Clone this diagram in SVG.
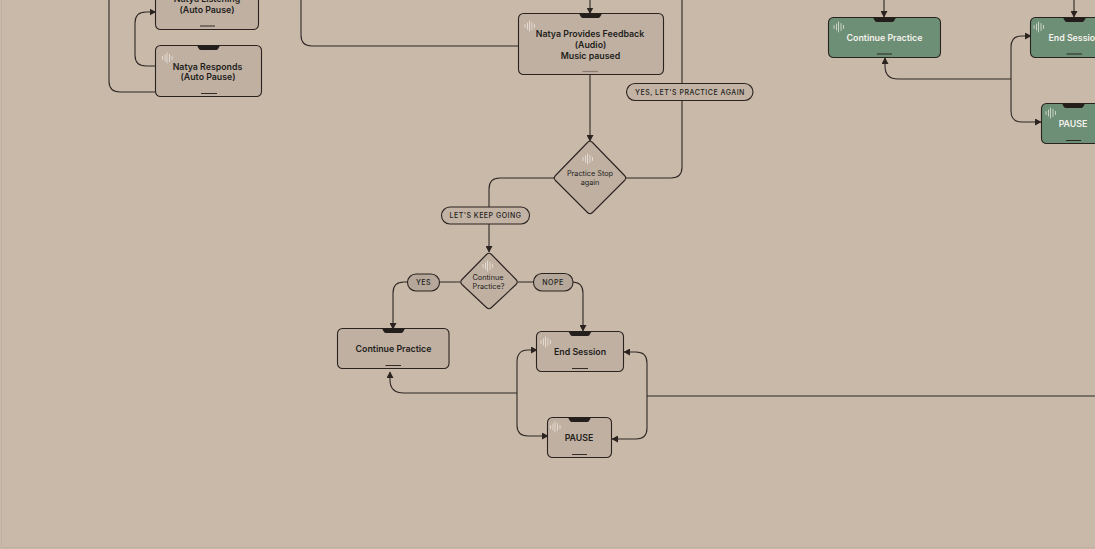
<svg xmlns="http://www.w3.org/2000/svg" width="1095" height="549" viewBox="0 0 1095 549">
<style>
.n{fill:#bfb0a2;stroke:#2a2320;stroke-width:1.1}
.g{fill:#6c8f76;stroke:#2a2320;stroke-width:1.1}
.c{fill:none;stroke:#2f2825;stroke-width:1.1}
.t{font-family:Inter,"Liberation Sans",sans-serif;font-size:8.8px;font-weight:600;fill:#231e1b;text-anchor:middle}
.d{font-family:Inter,"Liberation Sans",sans-serif;font-size:7.3px;fill:#231e1b;text-anchor:middle}
.l{font-family:Inter,"Liberation Sans",sans-serif;font-size:7px;font-weight:500;letter-spacing:.5px;fill:#231e1b;text-anchor:middle}
.p{fill:#c2b3a5;stroke:#2a2320;stroke-width:1.1}
.y{fill:#b5a799;stroke:#2a2320;stroke-width:1.1}
.notch{fill:#231e1b}
.bar{stroke:#231e1b;stroke-width:.9;fill:none}
.ic{stroke:#f3eee8;stroke-width:.7;fill:none;stroke-linecap:round}
</style>
<defs>
<marker id="a" markerWidth="7" markerHeight="7" refX="6" refY="3.500" orient="auto" markerUnits="userSpaceOnUse"><path d="M0 0L6.500 3.500L0 7z" fill="#2a2320"/></marker>
<g id="wave"><path class="ic" d="M0 -1.500V1.500M2.500 -3V3M4.500 -5V5M7 -3.500V3.500M9.500 -1.500V1.500"/></g>
<path id="nt" class="notch" d="M-11.500 0H11.500L9.500 3.500Q9 4.500 7.500 4.500H-7.500Q-9 4.500 -9.500 3.500Z"/>
</defs>
<rect width="1095" height="549" fill="#c9b9a9"/>
<path d="M1.500 0V547.500H1095" fill="none" stroke="#bdb0a1" stroke-width="1"/>
<g id="connectors">
<path class="c" d="M155.500 66H146Q135 66 135 55V23Q135 12 146 12H155.500" marker-end="url(#a)"/>
<path class="c" d="M155.500 92H120Q109 92 109 81V0"/>
<path class="c" d="M301 0V35Q301 46 312 46H518.500"/>
<path class="c" d="M590 0V13.500" marker-end="url(#a)"/>
<path class="c" d="M590 75V141" marker-end="url(#a)"/>
<path class="c" d="M626 178H671Q682 178 682 167V0"/>
<path class="c" d="M554 178H500Q489 178 489 189V252" marker-end="url(#a)"/>
<path class="c" d="M460 282H404Q393 282 393 293V329" marker-end="url(#a)"/>
<path class="c" d="M518 282H572Q583 282 583 293V331" marker-end="url(#a)"/>
<path class="c" d="M1095 396H647"/>
<path class="c" d="M647 396V363Q647 352 636 352H624" marker-end="url(#a)"/>
<path class="c" d="M647 396V428Q647 439 636 439H612" marker-end="url(#a)"/>
<path class="c" d="M517 393H404Q390 393 390 380V372" marker-end="url(#a)"/>
<path class="c" d="M517 393V362Q517 350 528 350H537" marker-end="url(#a)"/>
<path class="c" d="M517 393V425Q517 436 528 436H548" marker-end="url(#a)"/>
<path class="c" d="M884 0V17" marker-end="url(#a)"/>
<path class="c" d="M1074 0V17" marker-end="url(#a)"/>
<path class="c" d="M1011 79H898Q885 79 885 66V58" marker-end="url(#a)"/>
<path class="c" d="M1011 79V47Q1011 36 1022 36H1031" marker-end="url(#a)"/>
<path class="c" d="M1011 79V111Q1011 122 1022 122H1041" marker-end="url(#a)"/>
</g>
<g id="node-listening">
<rect class="n" x="155.500" y="-22" width="103" height="51.500" rx="5"/>
<path class="bar" d="M200 26H215"/>
<text class="t" x="207" y="2">Natya Listening</text><text class="t" x="207" y="13">(Auto Pause)</text>
</g>
<g id="node-responds">
<rect class="n" x="155.500" y="45.500" width="106" height="51" rx="5"/>
<use href="#nt" x="208.500" y="45.500"/>
<use href="#wave" x="162.500" y="58"/>
<path class="bar" d="M201 93.500H217"/>
<text class="t" x="207.500" y="69.500">Natya Responds</text><text class="t" x="208" y="80">(Auto Pause)</text>
</g>
<g id="node-feedback">
<rect class="n" x="518.500" y="13.500" width="145" height="61" rx="5"/>
<use href="#nt" x="590.500" y="13.500"/>
<use href="#wave" x="525" y="26"/>
<path d="M582.500 71.500H598" stroke="#8a7d72" stroke-width="1.200"/>
<text class="t" x="590" y="36.500">Natya Provides Feedback</text><text class="t" x="590.500" y="47.500">(Audio)</text><text class="t" x="590.500" y="58.500">Music paused</text>
</g>
<g id="label-again">
<rect class="p" x="626.500" y="83.500" width="126.500" height="17" rx="8.500"/>
<text class="l" x="690" y="95">YES, LET'S PRACTICE AGAIN</text>
</g>
<g id="decision-stop">
<path class="n" d="M587.500 142.500Q590 140 592.500 142.500L624.500 175.500Q627 178 624.500 180.500L592.500 212.500Q590 215 587.500 212.500L555.500 180.500Q553 178 555.500 175.500Z"/>
<use href="#wave" x="583" y="159"/>
<text class="d" x="590" y="176">Practice Stop</text><text class="d" x="590" y="185">again</text>
</g>
<g id="label-keep">
<rect class="p" x="441.500" y="207" width="88" height="17" rx="8.500"/>
<text class="l" x="485.500" y="218">LET'S KEEP GOING</text>
</g>
<g id="decision-continue">
<path class="n" d="M486.500 254.500Q489 252 491.500 254.500L516 279.500Q518.500 282 516 284.500L491.500 307.500Q489 310 486.500 307.500L462 284.500Q459.500 282 462 279.500Z"/>
<use href="#wave" x="483" y="266"/>
<text class="d" x="488" y="280">Continue</text><text class="d" x="488.500" y="289">Practice?</text>
</g>
<g id="label-yes">
<rect class="y" x="407.500" y="274" width="32" height="17" rx="8.500"/>
<text class="l" x="423.500" y="285">YES</text>
</g>
<g id="label-nope">
<rect class="y" x="533.500" y="273.500" width="39.500" height="17.500" rx="8.500"/>
<text class="l" x="553" y="285">NOPE</text>
</g>
<g id="node-continue">
<rect class="n" x="337.500" y="328.500" width="111.500" height="40" rx="5"/>
<use href="#nt" x="393.500" y="328.500"/>
<path class="bar" d="M385.500 365.500H401"/>
<text class="t" x="393.500" y="352">Continue Practice</text>
</g>
<g id="node-end">
<rect class="n" x="536.500" y="331.500" width="87" height="40" rx="5"/>
<use href="#nt" x="580" y="331.500"/>
<use href="#wave" x="541" y="342"/>
<path class="bar" d="M572 368.500H588"/>
<text class="t" x="580" y="355">End Session</text>
</g>
<g id="node-pause">
<rect class="n" x="547.500" y="417.500" width="64" height="40" rx="5"/>
<use href="#nt" x="579.500" y="417.500"/>
<use href="#wave" x="550.500" y="427"/>
<path class="bar" d="M572 454.500H587"/>
<text class="t" x="579" y="441">PAUSE</text>
</g>
<g id="node-continue-green">
<rect class="g" x="828.500" y="17.500" width="112" height="40" rx="5"/>
<use href="#nt" x="884.500" y="17.500"/>
<use href="#wave" x="834" y="27"/>
<path class="bar" d="M877 54H892"/>
<text class="t" x="884.500" y="41" style="fill:#f5f1ec">Continue Practice</text>
</g>
<g id="node-end-green">
<rect class="g" x="1030.500" y="17.500" width="87" height="40" rx="5"/>
<use href="#nt" x="1074.500" y="17.500"/>
<use href="#wave" x="1034" y="27"/>
<path class="bar" d="M1066.500 54H1082"/>
<text class="t" x="1074.500" y="41" style="fill:#f5f1ec">End Session</text>
</g>
<g id="node-pause-green">
<rect class="g" x="1041.500" y="103.500" width="64" height="40" rx="5"/>
<use href="#nt" x="1073.500" y="103.500"/>
<use href="#wave" x="1046" y="113"/>
<path class="bar" d="M1066 140.500H1081"/>
<text class="t" x="1073" y="127" style="fill:#f5f1ec">PAUSE</text>
</g>
</svg>
